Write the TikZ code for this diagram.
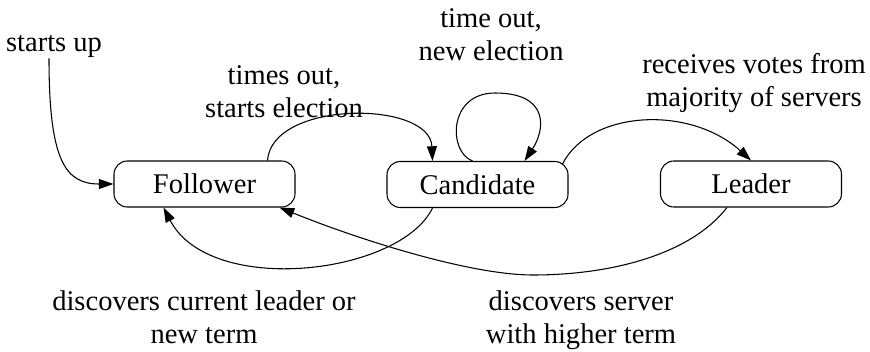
\documentclass[tikz,border=0pt]{standalone}
\usepackage{fontspec}
\setmainfont{Liberation Serif}
\usetikzlibrary{arrows.meta,calc}
\begin{document}
\begin{tikzpicture}[x=0.75pt,y=-0.75pt,
  state/.style={draw,rounded corners=10pt,minimum width=135.75pt,minimum height=34.5pt,inner sep=0pt,line width=0.8pt,font=\fontsize{21.4}{24.8}\selectfont},
  lbl/.style={inner sep=0pt,align=center,font=\fontsize{21.4}{24.8}\selectfont},
  edge/.style={line width=0.8pt,-{Triangle[length=11pt,width=7.5pt]}}]
\useasboundingbox (0,0) rectangle (870,352);
\node[state] (F) at (204.5,184) {Follower};
\node[state] (C) at (477.5,184.5) {Candidate};
\node[state] (L) at (751,184) {Leader};

\node[lbl,anchor=base] (su) at (54,52) {starts up};
\node[lbl] (l1) at (284,92) {times out,\\starts election};
\node[lbl] (l2) at (491,35) {time out,\\new election};
\node[lbl] (l3) at (754,83) {receives votes from\\majority of servers};
\node[lbl] (l4) at (204,317) {discovers current leader or\\new term};
\node[lbl] (l5) at (581,320) {discovers server\\with higher term};

\draw[edge] ([xshift=-3.75pt]su.south) .. controls (49,160) and (65,184) .. (F.west);
\draw[edge] ($(F.north)+(63,0)$) .. controls (272,100) and (430,100) .. ($(C.north)+(-45,0)$);
\draw[edge] ($(C.north)+(-5,0)$) .. controls (448,152) and (448,93) .. (495,93) .. controls (550,93) and (545,130) .. ($(C.north)+(47,0)$);
\draw[edge] ($(C.north east)+(-6,3)$) .. controls (590,110) and (690,105) .. (L.north);
\draw[edge] ($(C.south)+(-45,0)$) .. controls (400,275) and (210,297) .. ($(F.south)+(-41,0)$);
\draw[edge] ($(L.south)+(-24,0)$) .. controls (690,255) and (610,275) .. (533,275) .. controls (470,275) and (360,240) .. ($(F.south east)+(-16,0)$);
\end{tikzpicture}
\end{document}
